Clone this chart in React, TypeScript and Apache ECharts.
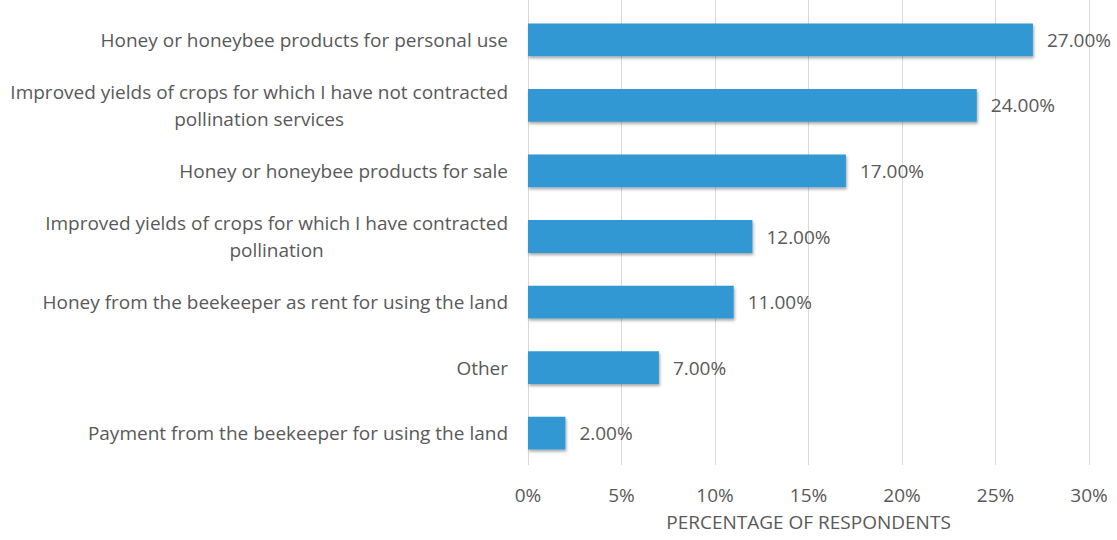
import React, { useEffect, useRef } from "react";
import * as echarts from "echarts";

const categories = [
  "Honey or honeybee products for personal use",
  "Improved yields of crops for which I have not contracted\npollination services",
  "Honey or honeybee products for sale",
  "Improved yields of crops for which I have contracted\npollination",
  "Honey from the beekeeper as rent for using the land",
  "Other",
  "Payment from the beekeeper for using the land",
];
const values = [27, 24, 17, 12, 11, 7, 2];
const xTicks = { min: 0, max: 30, interval: 5 };
const axisTitle = "PERCENTAGE OF RESPONDENTS";

const FONT = "'Open Sans', 'Noto Sans', sans-serif";
const TEXT = "#595959";
const FS = 19;

export default function App() {
  const ref = useRef<HTMLDivElement>(null);
  useEffect(() => {
    if (!ref.current) return;
    const chart = echarts.init(ref.current, null, { renderer: "svg" });
    chart.setOption({
      animation: false,
      backgroundColor: "#ffffff",
      grid: [
        { left: 528, right: 28, top: 7, bottom: 74, containLabel: false },
        { left: 528, right: 28, top: 0, bottom: 75, containLabel: false },
      ],
      xAxis: [
        {
          type: "value",
          gridIndex: 0,
          min: xTicks.min,
          max: xTicks.max,
          interval: xTicks.interval,
          axisLine: { show: false },
          axisTick: { show: false },
          splitLine: { show: false },
          axisLabel: {
            formatter: (v: number) => `${v}%`,
            color: TEXT,
            fontFamily: FONT,
            fontSize: FS,
            margin: 19,
          },
          name: axisTitle,
          nameLocation: "middle",
          nameGap: 46,
          nameTextStyle: { color: TEXT, fontFamily: FONT, fontSize: FS },
        },
        {
          type: "value",
          gridIndex: 1,
          min: xTicks.min,
          max: xTicks.max,
          interval: xTicks.interval,
          axisLine: { show: false },
          axisTick: { show: false },
          axisLabel: { show: false },
          splitLine: { show: true, lineStyle: { color: "#d9d9d9", width: 1 } },
          z: 0,
        },
      ],
      yAxis: [
        {
          type: "category",
          gridIndex: 0,
          data: categories,
          inverse: true,
          axisLine: { show: false },
          axisTick: { show: false },
          splitLine: { show: false },
          axisLabel: {
            color: TEXT,
            fontFamily: FONT,
            fontSize: FS,
            margin: 20,
            lineHeight: 27,
            formatter: (v: string) =>
              v
                .split("\n")
                .map((l) => `{c|${l}}`)
                .join("\n"),
            rich: {
              c: {
                align: "center",
                color: TEXT,
                fontFamily: FONT,
                fontSize: FS,
                lineHeight: 27,
              },
            },
          },
        },
        {
          type: "category",
          gridIndex: 1,
          data: categories,
          show: false,
        },
      ],
      series: [
        {
          type: "bar",
          xAxisIndex: 0,
          yAxisIndex: 0,
          data: values,
          barCategoryGap: "50%",
          itemStyle: {
            color: "#3398d4",
            shadowColor: "rgba(0,0,0,0.35)",
            shadowBlur: 3,
            shadowOffsetX: 1,
            shadowOffsetY: 2,
          },
          label: {
            show: true,
            position: "right",
            distance: 14,
            formatter: (p: any) => `${p.value.toFixed(2)}%`,
            color: TEXT,
            fontFamily: FONT,
            fontSize: FS,
          },
        },
      ],
    });
    return () => chart.dispose();
  }, []);
  return (
    <div
      ref={ref}
      style={{ position: "fixed", left: 0, top: 0, width: 1117, height: 540 }}
    />
  );
}
